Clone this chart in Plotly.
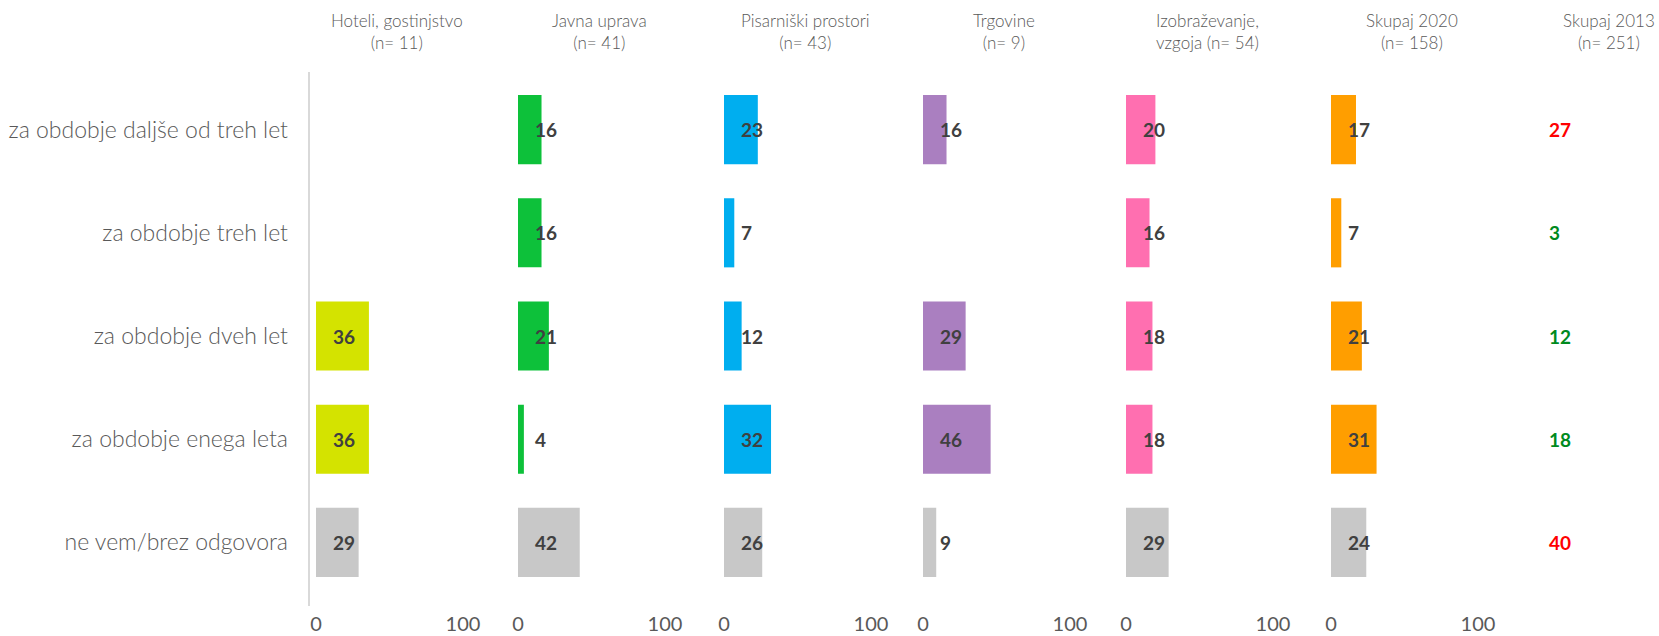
import plotly.graph_objects as go

categories = ["za obdobje daljše od treh let", "za obdobje treh let", "za obdobje dveh let",
              "za obdobje enega leta", "ne vem/brez odgovora"]
panel_titles = ["Hoteli, gostinjstvo<br>(n= 11)", "Javna uprava<br>(n= 41)",
                "Pisarniški prostori<br>(n= 43)", "Trgovine<br>(n= 9)",
                "Izobraževanje,<br>vzgoja (n= 54)", "Skupaj 2020<br>(n= 158)"]
hoteli = [None, None, 36, 36, 29]
javna_uprava = [16, 16, 21, 4, 42]
pisarniski = [23, 7, 12, 32, 26]
trgovine = [16, None, 29, 46, 9]
izobrazevanje = [20, 16, 18, 18, 29]
skupaj_2020 = [17, 7, 21, 31, 24]
skupaj_2013 = [27, 3, 12, 18, 40]
title_2013 = "Skupaj 2013<br>(n= 251)"
colors_2013 = ["#FF0000", "#008A1E", "#008A1E", "#008A1E", "#FF0000"]
panel_colors = ["#D4E300", "#0DC13A", "#00AEEF", "#AA7FC0", "#FF6FB0", "#FF9E00"]
gray = "#C8C8C8"
tick_vals = [0, 100]

series = [hoteli, javna_uprava, pisarniski, trgovine, izobrazevanje, skupaj_2020]

W, H = 1659, 636
PX_PER_UNIT = 1.47
X0 = [316, 518, 724, 923, 1126, 1331]
XMAX = 135
Y_TOP, Y_BOT = 78, 594
FONT = "Lato, 'Open Sans', sans-serif"


def px(x):
    return x / W


def py(y):
    return 1 - y / H


fig = go.Figure()
layout = {}
annotations = []
for i, (vals, col) in enumerate(zip(series, panel_colors)):
    ax = "" if i == 0 else str(i + 1)
    xa, ya = "x" + ax, "y" + ax
    bar_colors = [col] * (len(categories) - 1) + [gray]
    fig.add_trace(go.Bar(
        x=vals, y=categories, orientation="h", xaxis=xa, yaxis=ya,
        marker=dict(color=bar_colors, line=dict(width=0)), width=0.67,
        hoverinfo="x+y", showlegend=False))
    layout["xaxis" + ax] = dict(domain=[px(X0[i]), px(X0[i] + XMAX * PX_PER_UNIT)],
                                range=[0, XMAX], tickvals=tick_vals,
                                showgrid=False, zeroline=False, showline=False, ticks="",
                                ticklabelstandoff=16, automargin=False,
                                tickfont=dict(size=20, color="#595959", family=FONT),
                                anchor=ya, fixedrange=True)
    layout["yaxis" + ax] = dict(domain=[py(Y_BOT), py(Y_TOP)],
                                categoryorder="array", categoryarray=categories,
                                autorange="reversed", showgrid=False, zeroline=False,
                                showline=False, ticks="", anchor=xa, automargin=False,
                                showticklabels=(i == 0), ticklabelstandoff=27,
                                tickfont=dict(size=23, color="#595959", family=FONT,
                                              weight=300),
                                fixedrange=True)
    for c, v in zip(categories, vals):
        if v is None:
            continue
        annotations.append(dict(x=10, y=c, xref=xa, yref=ya, text="<b>%d</b>" % v,
                                showarrow=False, xanchor="left",
                                font=dict(size=19, color="#404040", family=FONT)))
    annotations.append(dict(x=px(X0[i] + 81), y=py(8), xref="paper", yref="paper",
                            text=panel_titles[i], showarrow=False, xanchor="center",
                            yanchor="top",
                            font=dict(size=17, color="#595959", family=FONT, weight=300)))

# Skupaj 2013 column (text only)
for c, v, col in zip(categories, skupaj_2013, colors_2013):
    annotations.append(dict(x=px(1547), y=c, xref="paper", yref="y", text="<b>%d</b>" % v,
                            showarrow=False, xanchor="left",
                            font=dict(size=19, color=col, family=FONT)))
annotations.append(dict(x=px(1609), y=py(8), xref="paper", yref="paper", text=title_2013,
                        showarrow=False, xanchor="center", yanchor="top",
                        font=dict(size=17, color="#595959", family=FONT, weight=300)))

fig.update_layout(**layout)
fig.update_layout(
    width=W, height=H, margin=dict(l=0, r=0, t=0, b=0, autoexpand=False),
    paper_bgcolor="white", plot_bgcolor="white",
    annotations=annotations, bargap=0.33,
    shapes=[dict(type="line", xref="paper", yref="paper", x0=px(309), x1=px(309),
                 y0=py(72), y1=py(606), line=dict(color="#D9D9D9", width=2))],
    font=dict(family=FONT),
)
fig.write_html("out.html", config={"displayModeBar": False},
               post_script="document.body.style.margin='0';document.body.style.overflow='hidden';")
